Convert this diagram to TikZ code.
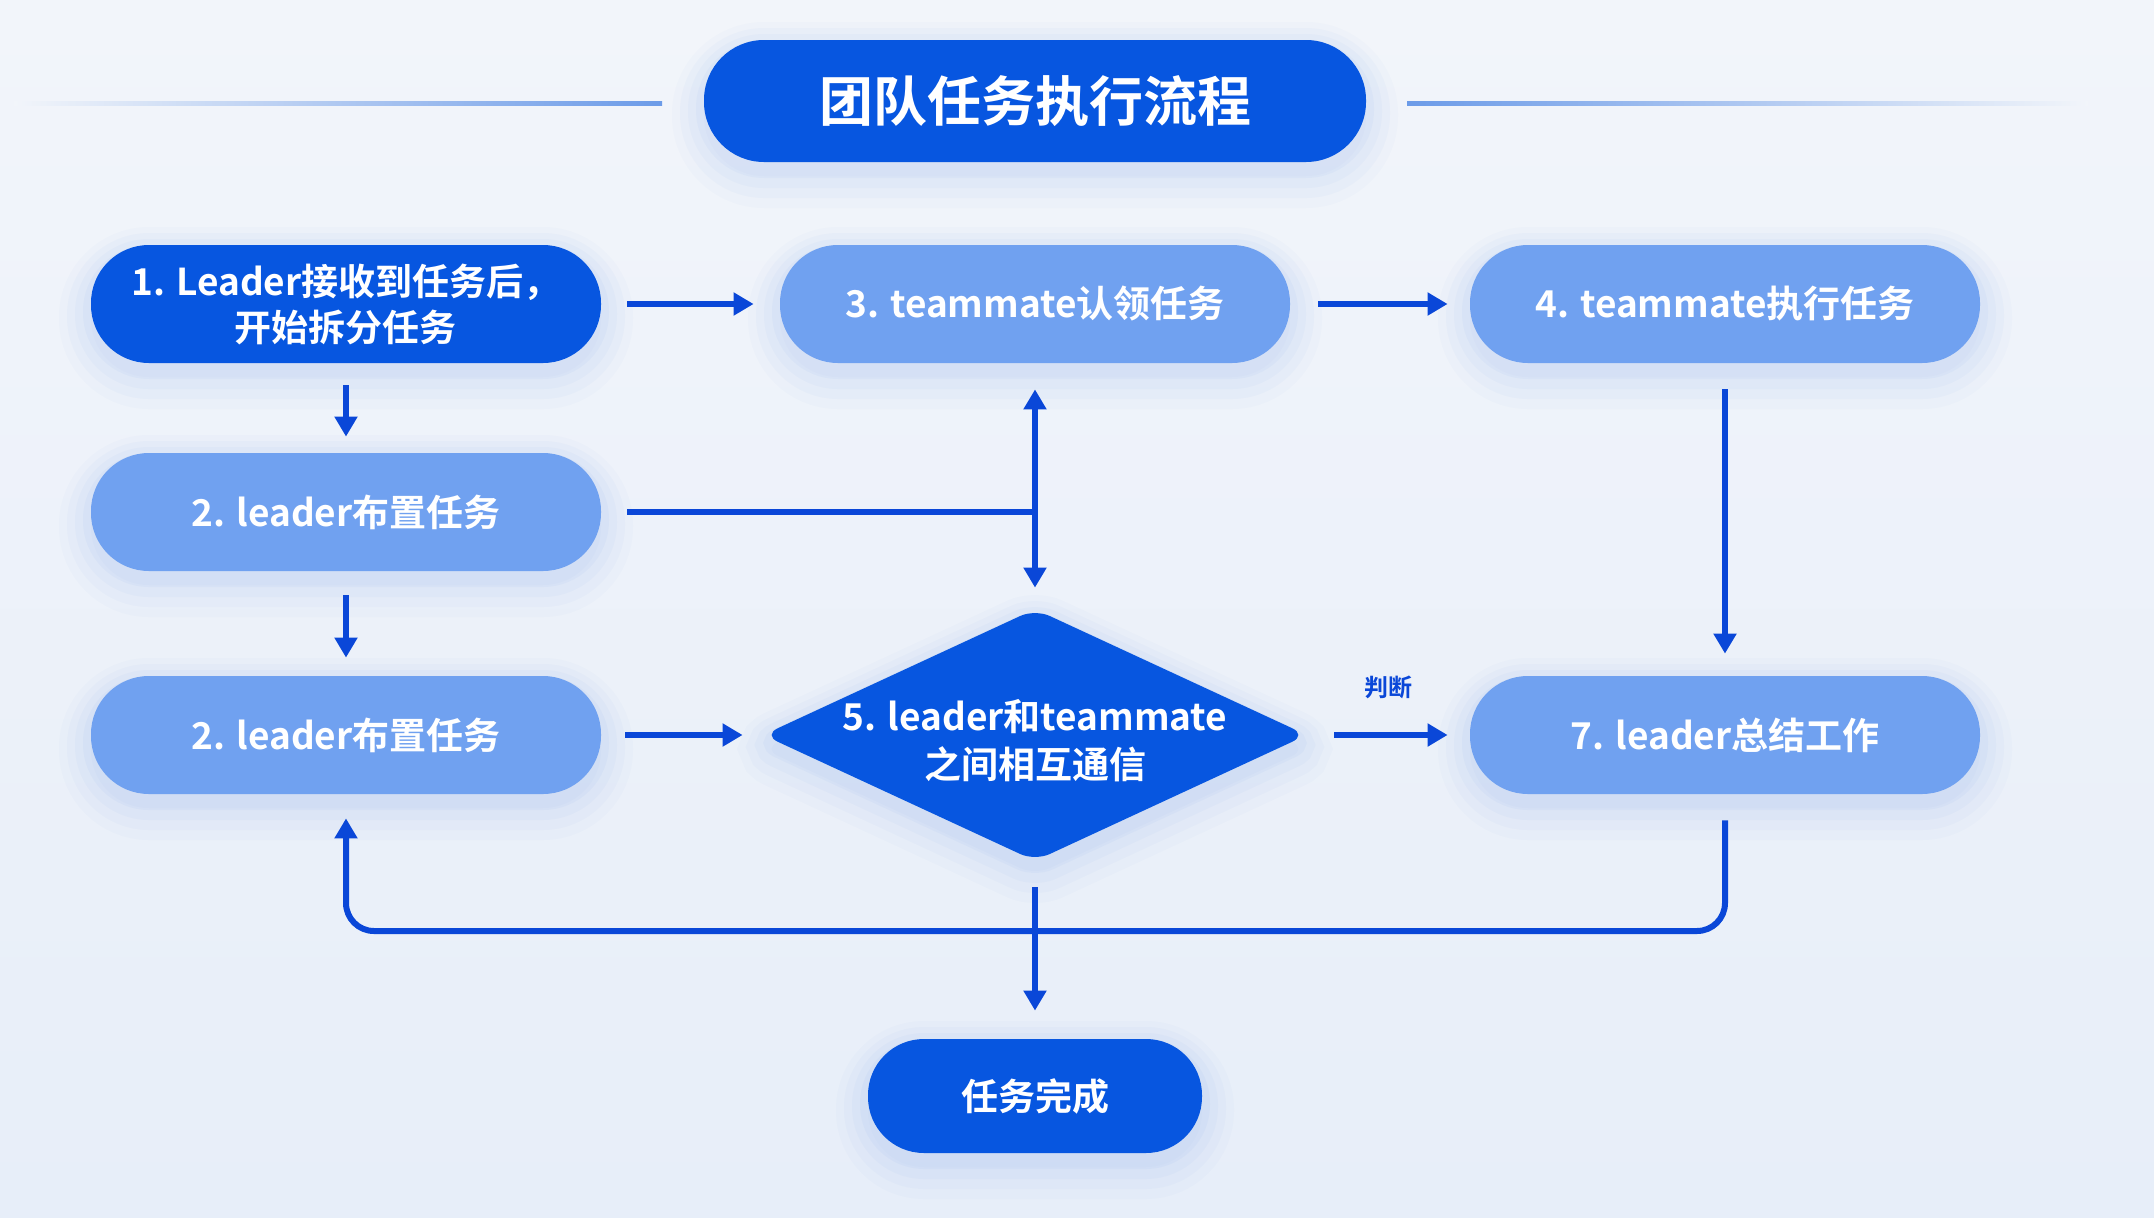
\documentclass[tikz,border=0pt]{standalone}
\usepackage{fontspec}
\newfontfamily\cjkb{Noto Sans CJK SC Bold}
\usetikzlibrary{shapes.geometric,arrows.meta,shadows,calc}
\definecolor{bgtop}{HTML}{F2F5FA}
\definecolor{bgbot}{HTML}{E7EEF9}
\definecolor{darkb}{HTML}{0756E0}
\definecolor{lightb}{HTML}{70A1F0}
\definecolor{arrc}{HTML}{0A47D8}
\definecolor{glowc}{HTML}{4A85EC}
\definecolor{linec}{HTML}{6C9BE8}
\tikzset{
  softglow/.style={
    general shadow={shadow yshift=-7pt, draw=glowc, line width=32pt, draw opacity=0.025, fill=glowc, fill opacity=0.025},
    general shadow={shadow yshift=-6pt, draw=glowc, line width=24pt, draw opacity=0.03},
    general shadow={shadow yshift=-5pt, draw=glowc, line width=16pt, draw opacity=0.035},
    general shadow={shadow yshift=-4pt, draw=glowc, line width=8pt, draw opacity=0.045}},
  pill/.style={draw=none, rectangle, rounded corners=29pt, minimum width=255pt, minimum height=59pt,
    inner sep=0pt, text=white, font=\cjkb\fontsize{18.5}{23}\selectfont, align=center, softglow},
  darkpill/.style={pill, fill=darkb},
  lightpill/.style={pill, fill=lightb},
  arr/.style={draw=arrc, line width=3pt, -{Triangle[length=10pt,width=11pt]}},
  plainline/.style={draw=arrc, line width=3pt},
}
\begin{document}
\begin{tikzpicture}[x=0.5pt,y=-0.5pt]
\useasboundingbox (0,0) rectangle (2154,1217);
\shade[top color=bgtop, bottom color=bgbot] (0,0) rectangle (2154,1217);

% title and side lines
\shade[left color=bgtop, right color=linec] (14,101.5) rectangle (662,105);
\shade[left color=linec, right color=bgtop] (1407,101.5) rectangle (2088,105);
\node[pill, fill=darkb, minimum width=331pt, minimum height=61pt, rounded corners=30pt,
  font=\cjkb\fontsize{27}{30}\selectfont] (title) at (1035,101) {团队任务执行流程};

% nodes
\node[darkpill]  (n1)  at (346,304)  {1. Leader接收到任务后，\\开始拆分任务};
\node[lightpill] (n3)  at (1035,304) {3. teammate认领任务};
\node[lightpill] (n4)  at (1725,304) {4. teammate执行任务};
\node[lightpill] (n2a) at (346,512)  {2. leader布置任务};
\node[lightpill] (n2b) at (346,735)  {2. leader布置任务};
\node[diamond, fill=darkb, minimum width=272pt, minimum height=126pt, inner sep=0pt,
  rounded corners=8pt, softglow] (d5) at (1035,735) {};
\node[text=white, font=\cjkb\fontsize{18.5}{24}\selectfont, align=center] (d5t) at ([yshift=-3pt]d5.center)
  {5. leader和teammate\\之间相互通信};
\node[lightpill] (n7)  at (1725,735) {7. leader总结工作};
\node[darkpill, minimum width=167pt, minimum height=57pt, rounded corners=28pt] (fin) at (1035,1096) {任务完成};

% connectors
\draw[arr, shorten <=13pt, shorten >=13pt] (n1.east) -- (n3.west);
\draw[arr, shorten <=14pt, shorten >=11pt] (n3.east) -- (n4.west);
\draw[arr, shorten <=11pt, shorten >=8pt] (n1.south) -- (n2a.north);
\draw[arr, shorten <=12pt, shorten >=9pt] (n2a.south) -- (n2b.north);
\draw[arr, shorten <=12pt, shorten >=10pt] (n2b.east) -- (d5.west);
\draw[arr, shorten <=13.5pt, shorten >=11pt] (d5.east) -- node[above=13pt, text=arrc, font=\cjkb\fontsize{12}{14}\selectfont] (lbl) {判断} (n7.west);
\draw[draw=arrc, line width=3pt, {Triangle[length=10pt,width=11pt]}-{Triangle[length=10pt,width=11pt]},
  shorten <=13pt, shorten >=10.5pt] (n3.south) -- (d5.north);
\coordinate (j) at (n3.south |- n2a.east);
\draw[plainline, shorten <=13pt] (n2a.east) -- (j);
\draw[arr, shorten <=13pt, shorten >=11pt] (n4.south) -- (n7.north);
\coordinate (loopy) at (0,931);
\draw[arr, rounded corners=14pt] ([yshift=-13pt]n7.south) -- (n7.south |- loopy) -- (n2b.south |- loopy) -- ([yshift=-12pt]n2b.south);
\draw[arr, shorten <=13pt, shorten >=14pt] (d5.south) -- (fin.north);
\end{tikzpicture}
\end{document}
